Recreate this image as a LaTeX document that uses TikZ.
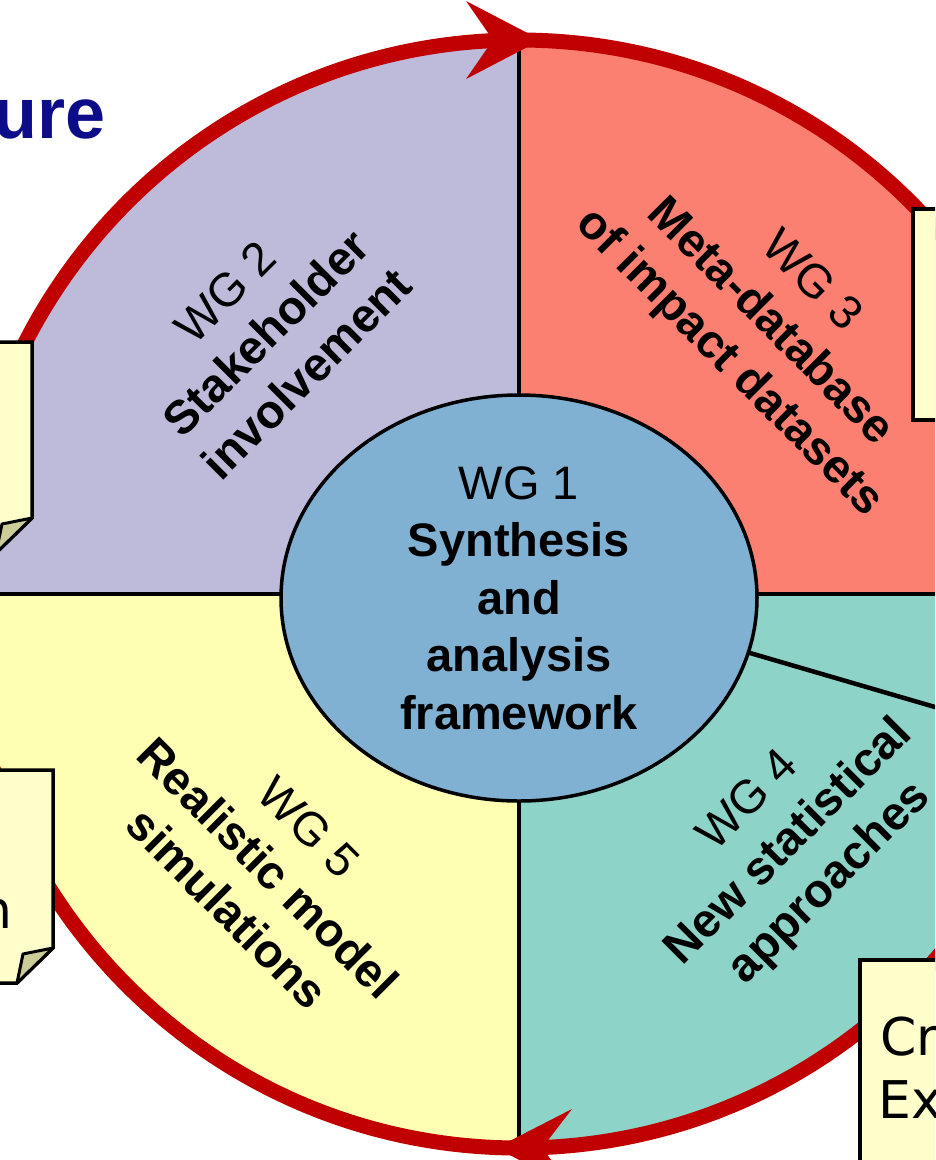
\documentclass[tikz,border=0pt]{standalone}
\usepackage{fontspec}
\setmainfont{Liberation Sans}
\newfontfamily\notefont{DejaVu Sans}
\usetikzlibrary{shapes.geometric}
\definecolor{lav}{HTML}{BEBADA}
\definecolor{salm}{HTML}{FB8072}
\definecolor{tealq}{HTML}{8DD3C7}
\definecolor{yel}{HTML}{FFFFB3}
\definecolor{blu}{HTML}{80B1D3}
\definecolor{cycred}{RGB}{192,0,0}
\definecolor{notefill}{HTML}{FFFFCC}
\definecolor{foldfill}{HTML}{CCCC99}
\definecolor{navy}{RGB}{13,13,138}
\begin{document}
\begin{tikzpicture}[x=1pt,y=1pt,
  wglabel/.style={align=center, inner sep=0pt, font=\fontsize{47pt}{57.5pt}\selectfont},
  divider/.style={line width=4.5pt, draw=black},
  notebox/.style={fill=notefill, draw=black, line width=3.5pt, line join=miter},
  foldbox/.style={fill=foldfill, draw=black, line width=3pt, line join=round},
  notetext/.style={font=\notefont\fontsize{52pt}{63pt}\selectfont, inner sep=0pt, anchor=base west}]
\useasboundingbox (0,0) rectangle (935,-1160);
\clip (0,0) rectangle (935,-1160);
\coordinate (C) at (519,-594);
\begin{scope}
  \clip (C) circle (554);
  \fill[lav] (C) rectangle (-100,100);
  \fill[salm] (C) rectangle (1100,100);
  \fill[tealq] (C) rectangle (1100,-1200);
  \fill[yel] (C) rectangle (-100,-1200);
  \draw[divider] (-100,-594) -- (1100,-594);
  \draw[divider] (519,100) -- (519,-1200);
  \draw[divider] (700,-638.4) -- (1100,-755.2);
\end{scope}
\draw[cycred, line width=15pt] (C) circle (554);
\fill[cycred] (541,-40) -- (466,-1) -- (493,-40) -- (466,-79) -- cycle;
\fill[cycred] (496,-1148) -- (572,-1109) -- (542,-1148) -- (572,-1187) -- cycle;
\node[ellipse, draw=black, line width=3.5pt, fill=blu, minimum width=476pt, minimum height=406pt,
      inner sep=0pt, align=center, font=\fontsize{47pt}{57.5pt}\selectfont] (wg1) at (519,-598)
  {WG 1\\\textbf{Synthesis}\\\textbf{and}\\\textbf{analysis}\\\textbf{framework}};
\node[wglabel, rotate=45] (wg2) at (266,-333) {WG 2\\\textbf{Stakeholder}\\\textbf{involvement}};
\node[wglabel, rotate=-45] (wg3) at (769,-323) {WG 3\\\textbf{Meta-database}\\\textbf{of impact datasets}};
\node[wglabel, rotate=45] (wg4) at (790,-843) {WG 4\\\textbf{New statistical}\\\textbf{approaches}};
\node[wglabel, rotate=-45] (wg5) at (268,-868) {WG 5\\\textbf{Realistic model}\\\textbf{simulations}};
\draw[notebox] (-60,-342) -- (32,-342) -- (32,-518) -- (-4,-553) -- (-60,-553) -- cycle;
\draw[foldbox] (32,-518) -- (2,-524) -- (-4,-553) -- cycle;
\draw[notebox] (-60,-770) -- (53,-770) -- (53,-948) -- (17,-983) -- (-60,-983) -- cycle;
\draw[foldbox] (53,-948) -- (23,-954) -- (17,-983) -- cycle;
\draw[notebox] (913,-209) rectangle (1000,-420);
\draw[notebox] (860,-960) rectangle (1000,-1220);
\node[notetext] (noten) at (-21,-928) {n};
\node[notetext] (notecr) at (880,-1055) {Cr};
\node[notetext] (noteex) at (878,-1118) {Ex};
\node[font=\fontsize{72pt}{86pt}\selectfont\bfseries, text=navy, inner sep=0pt, anchor=base east] (title) at (106,-138) {ure};
\end{tikzpicture}
\end{document}
